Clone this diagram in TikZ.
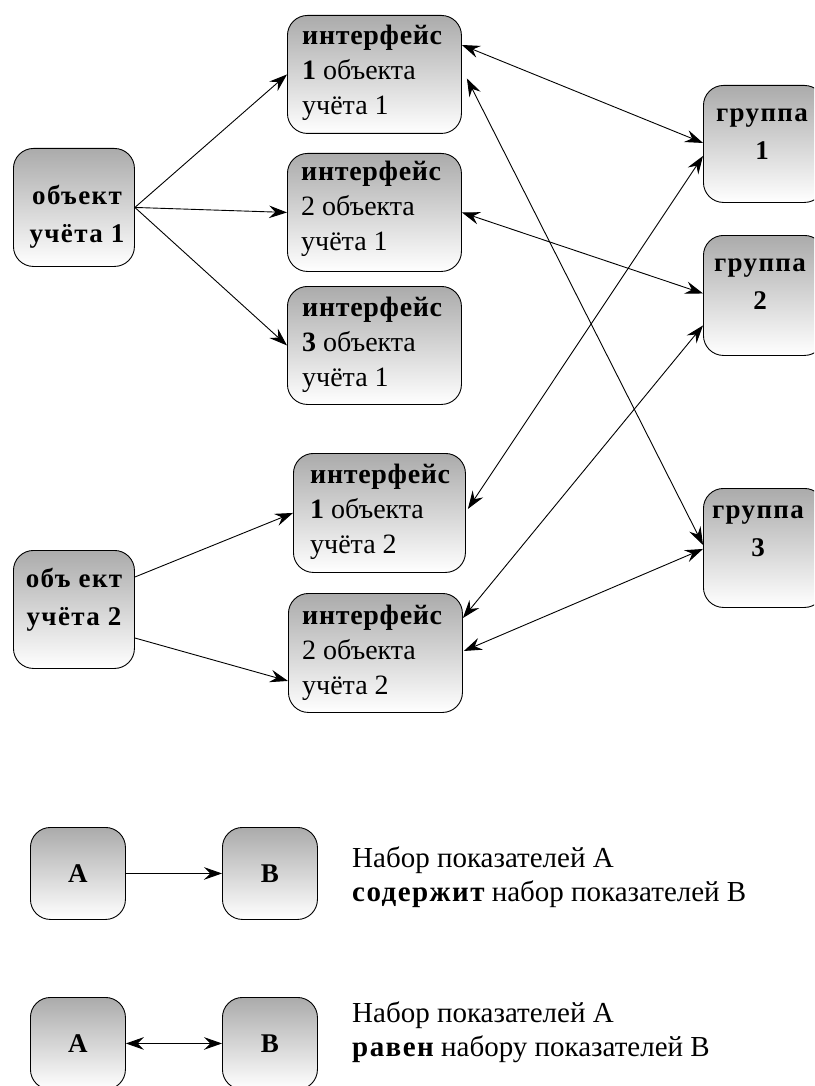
\documentclass[tikz,border=0pt]{standalone}
\usepackage{fontspec}
\setmainfont{Liberation Serif}
\newfontfamily\bsp{Liberation Serif}[LetterSpace=5]
\newfontfamily\bspi{Liberation Serif}[LetterSpace=2.5]
\usetikzlibrary{arrows.meta,calc}
\tikzset{
  box/.style={draw=black, line width=0.9pt, rounded corners=20pt,
    top color=black!33, bottom color=white, inner sep=0pt, anchor=north west},
  ibox/.style={box, minimum width=174pt, minimum height=118pt},
  obox/.style={box, minimum width=121pt, minimum height=118pt},
  lbox/.style={box, minimum width=95pt, minimum height=92pt},
  itxt/.style={inner sep=0pt, align=left, anchor=west, font=\fontsize{28}{35}\selectfont},
  ctxt/.style={inner sep=0pt, align=center, font=\fontsize{27}{38}\selectfont\bsp\bfseries},
  ltxt/.style={inner sep=0pt, align=left, anchor=west, font=\fontsize{29}{34}\selectfont},
  conn/.style={line width=0.9pt, -{Stealth[length=10pt,width=7pt,inset=3.5pt,scale=1.8]}},
  dconn/.style={line width=0.9pt, {Stealth[length=10pt,width=7pt,inset=3.5pt,scale=1.8]}-{Stealth[length=10pt,width=7pt,inset=3.5pt,scale=1.8]}},
}
\begin{document}
\begin{tikzpicture}[x=1pt,y=-1pt]
\useasboundingbox (0,0) rectangle (814,1086);
\clip (0,0) rectangle (814,1086);
\fill[white] (0,0) rectangle (814,1086);
% boxes
\node[obox] (O1) at (13,148) {};
\node[obox] (O2) at (13,550) {};
\node[ibox] (I11) at (287,15) {};
\node[ibox] (I21) at (287,153) {};
\node[ibox] (I31) at (287,286) {};
\node[ibox, minimum width=172pt, minimum height=119pt] (I12) at (293,453) {};
\node[ibox, minimum height=119pt] (I22) at (288,593) {};
\node[obox, minimum height=117pt] (G1) at (703,85) {};
\node[obox, minimum height=120pt] (G2) at (703,235) {};
\node[obox, minimum height=119pt] (G3) at (703,488) {};
\node[lbox] (A1) at (30,827) {};
\node[lbox] (B1) at (222,827) {};
\node[lbox] (A2) at (30,997) {};
\node[lbox] (B2) at (222,997) {};
% texts
\node[ctxt] (O1t) at (77,217) {объект\\учёта 1};
\node[ctxt] (O2t) at (74,600) {объ ект\\учёта 2};
\node[itxt] (I11t) at (302,73) {{\bspi\bfseries интерфейс}\\{\bfseries 1} объекта\\учёта 1};
\node[itxt] (I21t) at (301,209) {{\bspi\bfseries интерфейс}\\2 объекта\\учёта 1};
\node[itxt] (I31t) at (302,345) {{\bspi\bfseries интерфейс}\\{\bfseries 3} объекта\\учёта 1};
\node[itxt] (I12t) at (310,512) {{\bspi\bfseries интерфейс}\\{\bfseries 1} объекта\\учёта 2};
\node[itxt] (I22t) at (302,653) {{\bspi\bfseries интерфейс}\\2 объекта\\учёта 2};
\node[ctxt] (G1t) at (762,134) {группа\\1};
\node[ctxt] (G2t) at (760,284) {группа\\2};
\node[ctxt] (G3t) at (758,531) {группа\\3};
\node[ctxt] (A1t) at (A1.center) {A};
\node[ctxt] (B1t) at (B1.center) {B};
\node[ctxt] (A2t) at (A2.center) {A};
\node[ctxt] (B2t) at (B2.center) {B};
\node[ltxt] (L1) at (352,877) {Набор показателей А\\{\bsp\bfseries содержит} набор показателей В};
\node[ltxt] (L2) at (352,1032) {Набор показателей А\\{\bsp\bfseries равен} набору показателей В};
% connectors left
\draw[conn] (O1.east) -- (I11.west);
\draw[conn] (O1.east) -- (I21.west);
\draw[conn] (O1.east) -- (I31.west);
\draw[conn] ($(O2.north east)+(0,27)$) -- (I12.west);
\draw[conn] ($(O2.north east)+(0,88)$) -- ($(I22.west)+(0,28)$);
% connectors right
\draw[dconn] ($(I11.north east)+(0,30)$) -- ($(G1.west)+(0,-1)$);
\draw[dconn] ($(I11.east)+(5,4)$) -- ($(G3.west)+(0,-3)$);
\draw[dconn] (I21.east) -- ($(G2.west)+(0,-2)$);
\draw[dconn] ($(I12.east)+(2,-4)$) -- ($(G1.west)+(0,12)$);
\draw[dconn] ($(I22.north east)+(0,25)$) -- ($(G2.west)+(0,30)$);
\draw[dconn] ($(I22.east)+(1,-2)$) -- ($(G3.west)+(0,1)$);
% legend
\draw[conn] (A1.east) -- (B1.west);
\draw[dconn] (A2.east) -- (B2.west);
\end{tikzpicture}
\end{document}
